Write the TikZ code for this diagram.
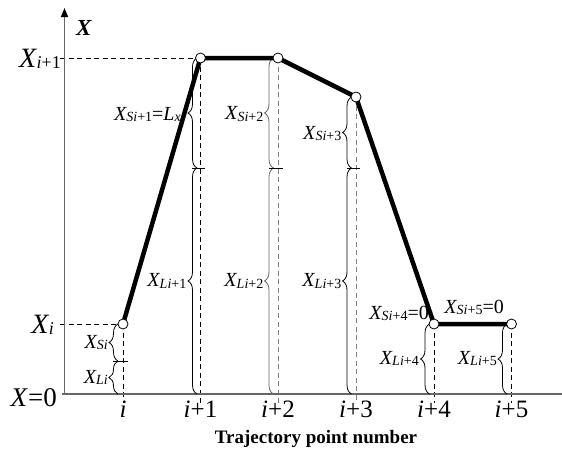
\documentclass[tikz,border=0pt]{standalone}
\usepackage{fontspec}
\setmainfont{Liberation Serif}
\usetikzlibrary{decorations.pathreplacing,arrows.meta}
\newcommand\lbX[3]{\fontsize{#1}{#1}\selectfont\textit{X}\kern-0.5pt\raisebox{-1.8pt}{\fontsize{#2}{#2}\selectfont #3}}
\newcommand\bX[1]{\lbX{20}{14}{#1}}
\newcommand\aX[1]{\lbX{28}{18}{#1}}
\begin{document}
\begin{tikzpicture}[x=1pt,y=-1pt,
  axisline/.style={draw=black!60,line width=1.5pt},
  guide/.style={dash pattern=on 5pt off 3.5pt,line width=0.9pt},
  bracec/.style={decorate,decoration={brace,amplitude=9pt},line width=0.8pt},
  traj/.style={line width=4.5pt,line join=round},
  pt/.style={circle,draw,fill=white,inner sep=0pt,minimum size=10pt,line width=0.8pt},
  tickln/.style={line width=0.8pt},
  blab/.style={anchor=base east,inner sep=0pt},
  ilab/.style={anchor=base,inner sep=0pt,font=\fontsize{25}{25}\selectfont},
  arr/.style={-{Triangle[length=9pt,width=7pt,color=black]}}]
\useasboundingbox (0,0) rectangle (562,450);
% key coordinates
\coordinate (O) at (64.5,394);
\coordinate (ytop) at (64.5,8);
\coordinate (xleft) at (62,394);
\coordinate (xend) at (571,394);
\coordinate (bot) at (0,403);
\coordinate (c0) at (123,324);
\coordinate (c1) at (200.5,58);
\coordinate (c2) at (278,58);
\coordinate (c3) at (356,97);
\coordinate (c4) at (434,324);
\coordinate (c5) at (511.5,324);
\coordinate (h1) at (60,58);
\coordinate (h0) at (60,324);
% dashed guides
\draw[guide] (h1) -- (c1);
\draw[guide] (h0) -- (c0);
\foreach \k/\c in {0/black,1/black,2/black!50,3/black!50,4/black,5/black}
  \draw[guide,draw=\c] (c\k) -- (c\k |- bot);
% axes
\draw[axisline,arr] (64.5,395) -- (ytop);
\draw[axisline,arr] (xleft) -- (xend);
% braces
\draw[bracec] (118,394) -- (118,361);
\draw[bracec] (118,361) -- (118,324);
\draw[tickln] (113,361) -- (128,361);
\draw[bracec] (197,394) -- (197,168);
\draw[bracec] (197,168) -- (197,58);
\draw[tickln] (192,168) -- (205,168);
\draw[bracec,draw=black!60] (273.5,394) -- (273.5,168);
\draw[bracec,draw=black!60] (273.5,168) -- (273.5,58);
\draw[tickln] (269,168) -- (283,168);
\draw[bracec] (351.5,394) -- (351.5,168);
\draw[bracec] (351.5,168) -- (351.5,97);
\draw[tickln] (347,168) -- (360,168);
\draw[bracec] (429.5,394) -- (429.5,324);
\draw[bracec] (507,394) -- (507,324);
% trajectory
\draw[traj] (c0) -- (c1) -- (c2) -- (c3) -- (c4) -- (c5);
\foreach \k in {0,...,5} \node[pt] (p\k) at (c\k) {};
% axis labels
\node[anchor=base east,inner sep=0pt] (lx1) at (61,67) {\aX{\textit{i}+1}};
\node[anchor=base east,inner sep=0pt] (lx0) at (54,333) {\aX{\textit{i}}};
\node[anchor=base east,inner sep=0pt] (lx00) at (57,406) {\fontsize{27}{27}\selectfont\textit{X}=0};
\node[anchor=base west,inner sep=0pt] (lxax) at (76,35) {\fontsize{23}{23}\selectfont\bfseries\itshape X};
% point number labels
\node[ilab] (n0) at (c0 |- 0,417) {\textit{i}};
\node[ilab] (n1) at (c1 |- 0,417) {\textit{i}+1};
\node[ilab] (n2) at (c2 |- 0,417) {\textit{i}+2};
\node[ilab] (n3) at (c3 |- 0,417) {\textit{i}+3};
\node[ilab] (n4) at (c4 |- 0,417) {\textit{i}+4};
\node[ilab] (n5) at (c5 |- 0,417) {\textit{i}+5};
\node[anchor=base,inner sep=0pt] (title) at (316,443) {\fontsize{19}{19}\selectfont\bfseries Trajectory point number};
% brace labels
\node[blab] (s0) at (108,348) {\bX{\textit{Si}}};
\node[blab] (l0) at (108,383) {\bX{\textit{Li}}};
\node[blab] (s1) at (181,120) {\bX{\textit{Si}+1}\fontsize{20}{20}\selectfont=\textit{L}\raisebox{-1.8pt}{\fontsize{14}{14}\selectfont\textit{x}}};
\node[blab] (l1) at (186.5,286.5) {\bX{\textit{Li}+1}};
\node[blab] (s2) at (263.5,119.5) {\bX{\textit{Si}+2}};
\node[blab] (l2) at (263.5,286.5) {\bX{\textit{Li}+2}};
\node[blab] (s3) at (341.5,139) {\bX{\textit{Si}+3}};
\node[blab] (l3) at (341.5,286.5) {\bX{\textit{Li}+3}};
\node[blab] (s4) at (429,319) {\bX{\textit{Si}+4}\fontsize{20}{20}\selectfont=0};
\node[blab] (s5) at (504,313) {\bX{\textit{Si}+5}\fontsize{20}{20}\selectfont=0};
\node[blab] (l4) at (419,364) {\bX{\textit{Li}+4}};
\node[blab] (l5) at (497,364) {\bX{\textit{Li}+5}};
\end{tikzpicture}
\end{document}
